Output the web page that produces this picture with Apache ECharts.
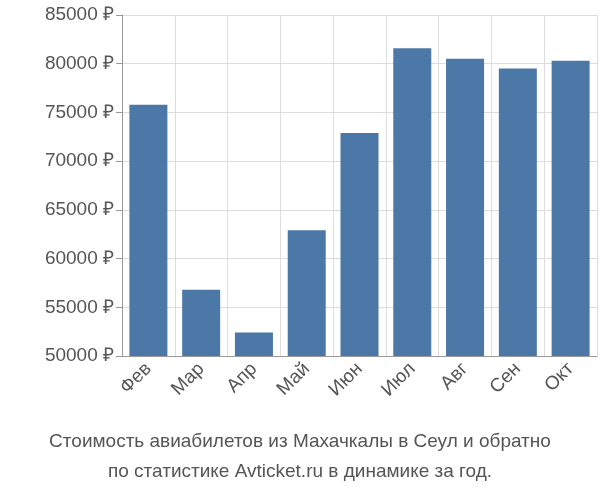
<!DOCTYPE html>
<html><head><meta charset="utf-8">
<script src="https://cdn.jsdelivr.net/npm/echarts@6/dist/echarts.min.js"></script>
<style>html,body{margin:0;padding:0}#c{width:600px;height:500px}</style>
</head><body><div id="c"></div>
<script>
const months = ['Фев', 'Мар', 'Апр', 'Май', 'Июн', 'Июл', 'Авг', 'Сен', 'Окт'];
const prices = [75800, 56800, 52400, 62900, 72900, 81600, 80500, 79500, 80300];

const chart = echarts.init(document.getElementById('c'));
chart.setOption({
  animation: false,
  title: {
    text: 'Стоимость авиабилетов из Махачкалы в Сеул и обратно\nпо статистике Avticket.ru в динамике за год.',
    left: 'center',
    bottom: 8,
    textStyle: {color: '#555', fontSize: 19, fontWeight: 'normal', fontFamily: 'Liberation Sans', lineHeight: 30}
  },
  grid: {left: 122, right: 3, top: 15, bottom: 144},
  xAxis: {
    type: 'category',
    data: months,
    axisLine: {lineStyle: {color: '#999'}},
    axisTick: {show: false},
    splitLine: {show: true, lineStyle: {color: '#ddd'}},
    axisLabel: {rotate: 45, color: '#555', fontSize: 19, fontFamily: 'Liberation Sans', margin: 10, interval: 0}
  },
  yAxis: {
    type: 'value',
    min: 50000,
    max: 85000,
    interval: 5000,
    axisLine: {show: true, lineStyle: {color: '#999'}},
    axisTick: {show: true, length: 6},
    splitLine: {lineStyle: {color: '#ddd'}},
    axisLabel: {color: '#555', fontSize: 19, fontFamily: 'Liberation Sans', formatter: v => v + ' ₽'}
  },
  series: [{
    type: 'bar',
    data: prices,
    barCategoryGap: '28%',
    itemStyle: {color: '#4c78a8'}
  }]
});
</script></body></html>
